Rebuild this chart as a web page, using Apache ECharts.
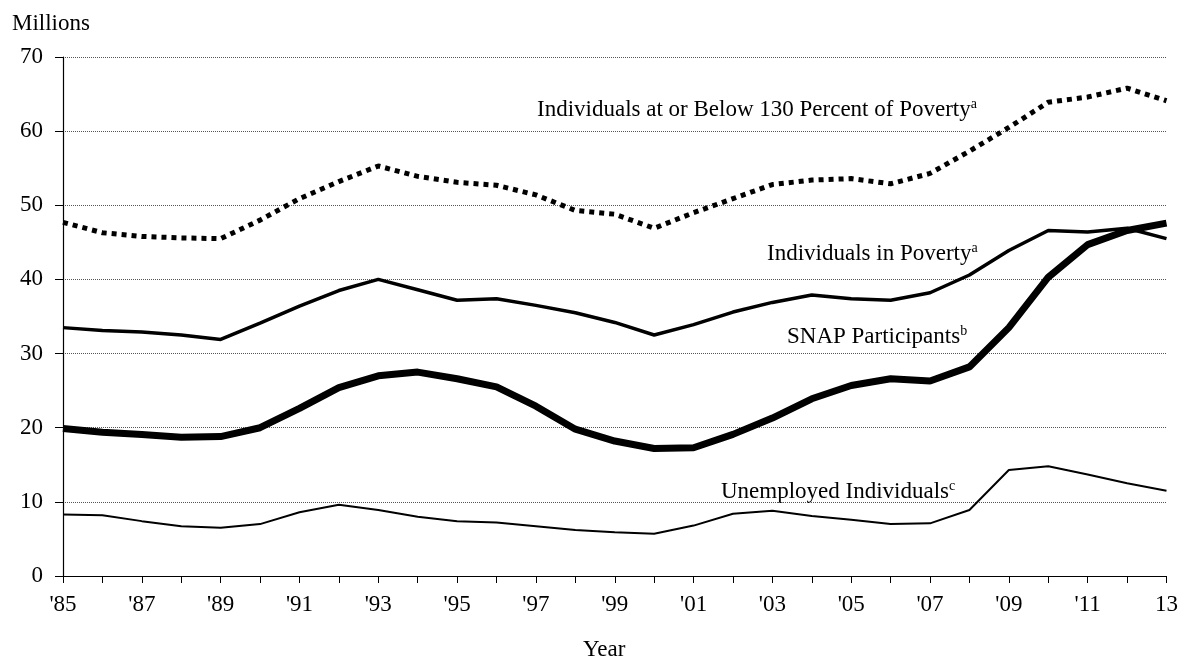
<!DOCTYPE html>
<html lang="en">
<head>
    <meta charset="UTF-8">
    <title>SNAP Participants and Poverty</title>
    <script src="https://cdn.jsdelivr.net/npm/echarts@6/dist/echarts.min.js"></script>
    <style>
        body { margin: 0; background: #fff; }
        #main { width: 1181px; height: 660px; }
    </style>
</head>
<body>
    <div id="main"></div>
    <script>
        // Years 1985 - 2013, shown as '85 ... '12, 13
        var tickLabels = ["'85", "'86", "'87", "'88", "'89", "'90", "'91", "'92", "'93", "'94", "'95", "'96", "'97", "'98", "'99",
            "'00", "'01", "'02", "'03", "'04", "'05", "'06", "'07", "'08", "'09", "'10", "'11", "'12", "13"];

        // values in millions
        var below130 = [47.7, 46.3, 45.8, 45.6, 45.5, 48.0, 50.9, 53.2, 55.3, 53.9, 53.1, 52.7, 51.4, 49.3, 48.8,
            46.9, 49.0, 50.9, 52.8, 53.4, 53.6, 52.9, 54.3, 57.3, 60.5, 63.9, 64.6, 65.8, 64.1];
        var inPoverty = [33.5, 33.1, 32.9, 32.5, 31.9, 34.1, 36.4, 38.5, 40.0, 38.6, 37.2, 37.4, 36.5, 35.5, 34.2,
            32.5, 33.9, 35.6, 36.9, 37.9, 37.4, 37.2, 38.2, 40.6, 43.9, 46.6, 46.4, 46.9, 45.5];
        var snap = [19.9, 19.4, 19.1, 18.7, 18.8, 20.0, 22.6, 25.4, 27.0, 27.5, 26.6, 25.5, 22.9, 19.8, 18.2,
            17.2, 17.3, 19.1, 21.3, 23.9, 25.7, 26.6, 26.3, 28.2, 33.5, 40.3, 44.7, 46.6, 47.6];
        var unemployed = [8.3, 8.2, 7.4, 6.7, 6.5, 7.0, 8.6, 9.6, 8.9, 8.0, 7.4, 7.2, 6.7, 6.2, 5.9,
            5.7, 6.8, 8.4, 8.8, 8.1, 7.6, 7.0, 7.1, 8.9, 14.3, 14.8, 13.7, 12.5, 11.5];

        var font = '"Liberation Serif", "Times New Roman", serif';
        var myChart = echarts.init(document.getElementById('main'));

        // series label with a footnote letter raised after it
        function label(text, sup, left, top) {
            return {
                type: 'text',
                left: left,
                top: top,
                style: {
                    text: '{m|' + text + '}{s|' + sup + '}',
                    rich: {
                        m: { fontFamily: font, fontSize: 23, lineHeight: 26, fill: '#000' },
                        s: { fontFamily: font, fontSize: 14, lineHeight: 14, fill: '#000', verticalAlign: 'top' }
                    }
                }
            };
        }

        var option = {
            animation: false,
            grid: { left: 63, right: 11, top: 57, bottom: 84 },
            xAxis: {
                type: 'category',
                data: tickLabels,
                boundaryGap: false,
                axisLine: { lineStyle: { color: '#000', width: 1.2 } },
                axisTick: { show: true, length: 7, interval: 0, lineStyle: { color: '#000' } },
                axisLabel: { interval: 1, color: '#000', fontFamily: font, fontSize: 23, margin: 17 },
                splitLine: { show: false }
            },
            yAxis: {
                type: 'value',
                min: 0,
                max: 70,
                interval: 10,
                axisLine: { show: true, lineStyle: { color: '#000', width: 1.2 } },
                axisTick: { show: true, length: 8, lineStyle: { color: '#000' } },
                axisLabel: { color: '#000', fontFamily: font, fontSize: 23, margin: 20, padding: [5, 0, 0, 0] },
                splitLine: { show: true, lineStyle: { color: '#555', type: [1, 1], width: 1 } }
            },
            series: [
                {
                    name: 'Individuals at or Below 130 Percent of Poverty',
                    type: 'line', data: below130, symbol: 'none',
                    lineStyle: { color: '#000', width: 5, type: [5, 5], cap: 'butt' }
                },
                {
                    name: 'Individuals in Poverty',
                    type: 'line', data: inPoverty, symbol: 'none',
                    lineStyle: { color: '#000', width: 3.5 }
                },
                {
                    name: 'SNAP Participants',
                    type: 'line', data: snap, symbol: 'none',
                    lineStyle: { color: '#000', width: 7 }
                },
                {
                    name: 'Unemployed Individuals',
                    type: 'line', data: unemployed, symbol: 'none',
                    lineStyle: { color: '#000', width: 2 }
                }
            ],
            graphic: [
                { type: 'text', left: 12, top: 12, style: { text: 'Millions', fontFamily: font, fontSize: 23, fill: '#000' } },
                { type: 'text', left: 583, top: 638, style: { text: 'Year', fontFamily: font, fontSize: 23, fill: '#000' } },
                label('Individuals at or Below 130 Percent of Poverty', 'a', 537, 97),
                label('Individuals in Poverty', 'a', 767, 241),
                label('SNAP Participants', 'b', 787, 324),
                label('Unemployed Individuals', 'c', 721, 479)
            ]
        };
        myChart.setOption(option);
    </script>
</body>
</html>
